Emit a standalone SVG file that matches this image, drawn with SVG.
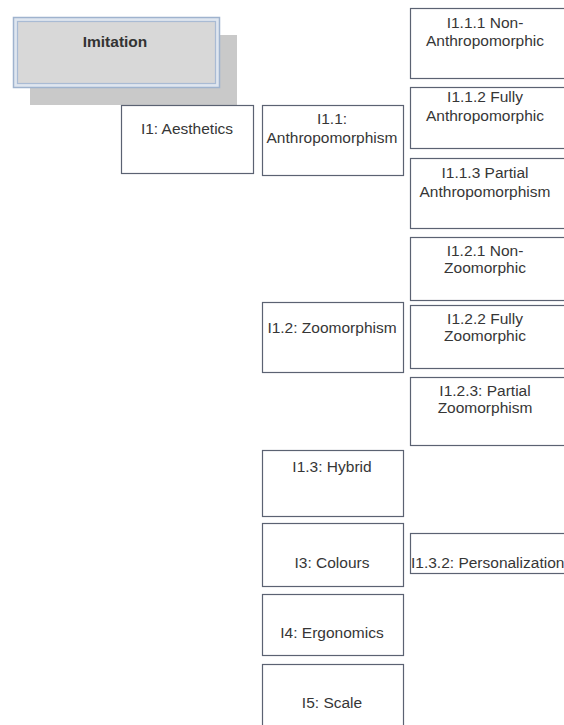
<svg xmlns="http://www.w3.org/2000/svg" width="564" height="725" viewBox="0 0 564 725">
<style>
.box{fill:#ffffff;stroke:#5b6272;stroke-width:1.2}
.t{font-family:"Liberation Sans",Arial,sans-serif;font-size:15.5px;fill:#363636;text-anchor:middle}
.tl{font-family:"Liberation Sans",Arial,sans-serif;font-size:15.5px;fill:#363636}
.tb{font-family:"Liberation Sans",Arial,sans-serif;font-size:15.5px;font-weight:bold;fill:#333333;text-anchor:middle}
</style>
<rect width="564" height="725" fill="#ffffff"/>
<g id="imitation">
<rect x="30" y="35" width="207" height="70" fill="#c9c9c9"/>
<rect x="13.5" y="17.5" width="206" height="70" fill="#dfe6ef" stroke="#9fb3ce" stroke-width="1.5"/>
<rect x="17.5" y="21.5" width="198" height="62" fill="#d8d8d8" stroke="#a9bbd4" stroke-width="1.2"/>
<text class="tb" x="115" y="47">Imitation</text>
</g>
<g id="connectors"></g>
<g id="i1"><rect class="box" x="121.5" y="105.5" width="132" height="68"/><text class="t" x="187" y="134">I1: Aesthetics</text></g>
<g id="i1-1"><rect class="box" x="262.5" y="105.5" width="141" height="70"/><text class="t" x="332" y="124">I1.1:</text><text class="t" x="332" y="143">Anthropomorphism</text></g>
<g id="i1-1-1"><rect class="box" x="410.5" y="8.5" width="170" height="70"/><text class="t" x="485" y="28">I1.1.1 Non-</text><text class="t" x="485" y="46">Anthropomorphic</text></g>
<g id="i1-1-2"><rect class="box" x="410.5" y="87.5" width="170" height="61"/><text class="t" x="485" y="102">I1.1.2 Fully</text><text class="t" x="485" y="121">Anthropomorphic</text></g>
<g id="i1-1-3"><rect class="box" x="410.5" y="158.5" width="170" height="70"/><text class="t" x="485" y="178">I1.1.3 Partial</text><text class="t" x="485" y="197">Anthropomorphism</text></g>
<g id="i1-2-1"><rect class="box" x="410.5" y="237.5" width="170" height="63"/><text class="t" x="485" y="256">I1.2.1 Non-</text><text class="t" x="485" y="273">Zoomorphic</text></g>
<g id="i1-2-2"><rect class="box" x="410.5" y="305.5" width="170" height="63"/><text class="t" x="485" y="324">I1.2.2 Fully</text><text class="t" x="485" y="341">Zoomorphic</text></g>
<g id="i1-2-3"><rect class="box" x="410.5" y="377.5" width="170" height="68"/><text class="t" x="485" y="396">I1.2.3: Partial</text><text class="t" x="485" y="413">Zoomorphism</text></g>
<g id="i1-2"><rect class="box" x="262.5" y="302.5" width="141" height="70"/><text class="t" x="332" y="333">I1.2: Zoomorphism</text></g>
<g id="i1-3"><rect class="box" x="262.5" y="450.5" width="141" height="66"/><text class="t" x="332" y="472">I1.3: Hybrid</text></g>
<g id="i3"><rect class="box" x="262.5" y="523.5" width="141" height="63"/><text class="t" x="332" y="568">I3: Colours</text></g>
<g id="i4"><rect class="box" x="262.5" y="594.5" width="141" height="61"/><text class="t" x="332" y="638">I4: Ergonomics</text></g>
<g id="i5"><rect class="box" x="262.5" y="664.5" width="141" height="80"/><text class="t" x="332" y="708">I5: Scale</text></g>
<g id="i1-3-2"><rect class="box" x="410.5" y="533.5" width="170" height="40"/><text class="tl" x="411" y="568">I1.3.2: Personalization</text></g>
</svg>
